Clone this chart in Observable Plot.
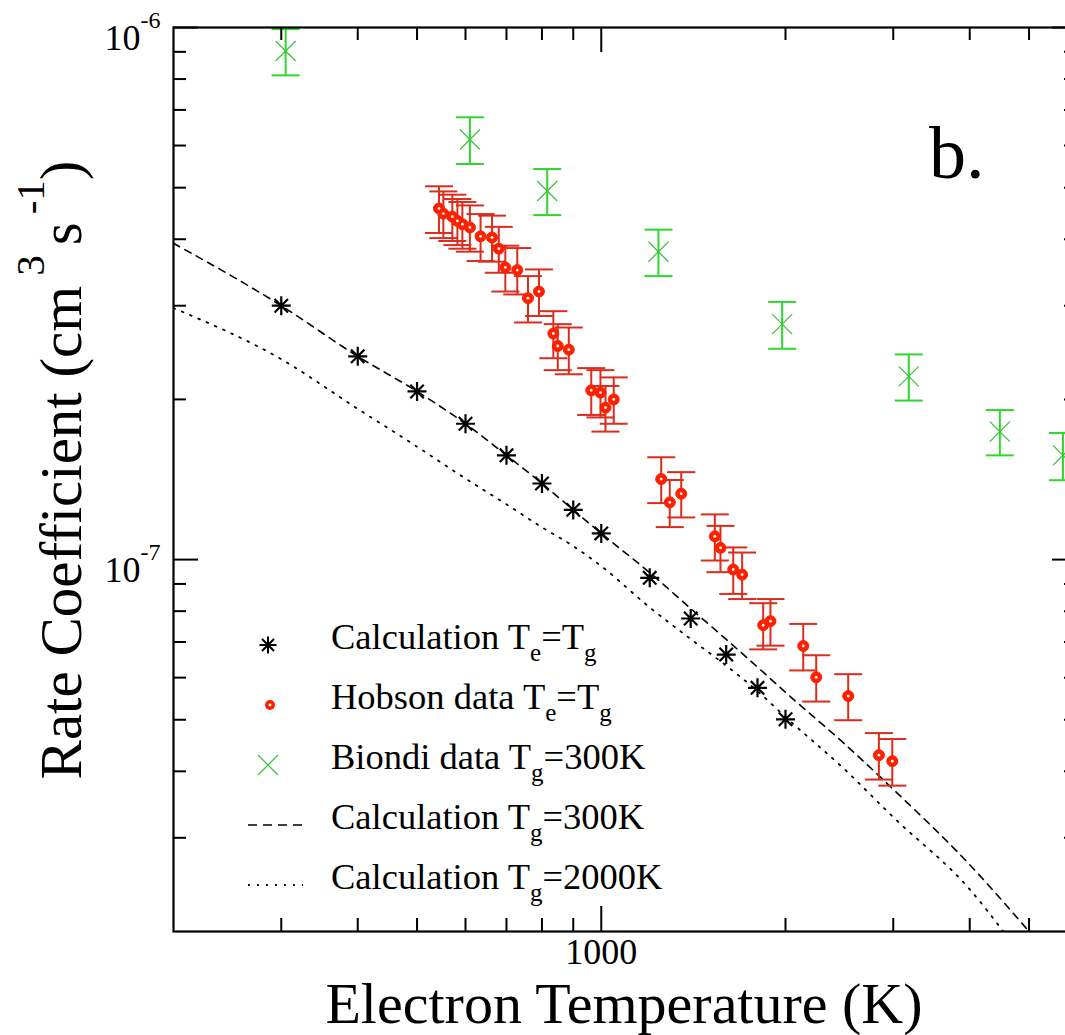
<!DOCTYPE html>
<html>
<head>
<meta charset="utf-8">
<script src="https://cdn.jsdelivr.net/npm/d3@7"></script>
<script src="https://cdn.jsdelivr.net/npm/@observablehq/plot@0.6"></script>
<style>
html,body{margin:0;padding:0;background:#fff;overflow:hidden}
</style>
</head>
<body>
<div id="chart"></div>
<script>
// ---- data ----
const calcT    = [300,400,500,600,700,800,900,1000,1200,1400,1600,1800,2000];
const calcRate = [3.00e-7,2.41e-7,2.07e-7,1.80e-7,1.57e-7,1.39e-7,1.24e-7,1.12e-7,9.24e-8,7.75e-8,6.63e-8,5.74e-8,5.01e-8];

const tg300T    = [200,300,400,500,600,700,800,900,1000,1200,1400,1600,1800,2000,2500,3000,4000,5000];
const tg300Rate = [3.93e-7,3.00e-7,2.41e-7,2.07e-7,1.80e-7,1.57e-7,1.39e-7,1.24e-7,1.12e-7,9.45e-8,8.09e-8,7.08e-8,6.28e-8,5.63e-8,4.50e-8,3.70e-8,2.67e-8,2.00e-8];

const tg2000T    = [200,300,400,500,600,700,800,900,1000,1200,1400,1600,1800,2000,2500,3000,4000,4540];
const tg2000Rate = [2.97e-7,2.38e-7,1.92e-7,1.63e-7,1.42e-7,1.27e-7,1.15e-7,1.06e-7,9.72e-8,8.13e-8,7.09e-8,6.32e-8,5.66e-8,5.06e-8,4.03e-8,3.28e-8,2.40e-8,2.00e-8];

const hobsonT    = [543,552,571,582,593,610,635,663,680,697,729,759,791,835,849,885,963,997,1016,1048,1253,1294,1351,1533,1566,1643,1699,1839,1890,2138,2245,2532,2842,2989];
const hobsonRate = [4.57e-7,4.47e-7,4.41e-7,4.33e-7,4.27e-7,4.21e-7,4.05e-7,4.03e-7,3.84e-7,3.54e-7,3.50e-7,3.10e-7,3.19e-7,2.66e-7,2.52e-7,2.48e-7,2.08e-7,2.06e-7,1.93e-7,2.00e-7,1.417e-7,1.281e-7,1.330e-7,1.106e-7,1.052e-7,9.58e-8,9.37e-8,7.53e-8,7.66e-8,6.88e-8,6.01e-8,5.54e-8,4.29e-8,4.18e-8];
const hobsonErr  = [0.46e-7,0.45e-7,0.44e-7,0.43e-7,0.43e-7,0.42e-7,0.41e-7,0.40e-7,0.38e-7,0.35e-7,0.35e-7,0.31e-7,0.32e-7,0.27e-7,0.25e-7,0.25e-7,0.21e-7,0.21e-7,0.19e-7,0.20e-7,0.14e-7,0.13e-7,0.13e-7,0.11e-7,0.105e-7,0.96e-8,0.94e-8,0.75e-8,0.77e-8,0.69e-8,0.60e-8,0.55e-8,0.43e-8,0.42e-8];

const biondiT    = [305,610,816,1240,1975,3180,4480,5680];
const biondiRate = [9.03e-7,6.16e-7,4.93e-7,3.79e-7,2.77e-7,2.21e-7,1.74e-7,1.57e-7];
const biondiErr  = [0.90e-7,0.62e-7,0.49e-7,0.38e-7,0.28e-7,0.22e-7,0.17e-7,0.16e-7];

const xMinorTicks = [300,400,500,600,700,800,900,2000,3000,4000,5000];
const xMajorTicks = [1000];
const yMinorTicks = [3e-8,4e-8,5e-8,6e-8,7e-8,8e-8,9e-8,2e-7,3e-7,4e-7,5e-7,6e-7,7e-7,8e-7,9e-7];
const yMajorTicks = [1e-7,1e-6];

const xTitle = "Electron Temperature (K)";
const panelLabel = "b.";
const legendLabels = [
  [["Calculation T",0],["e",1],["=T",0],["g",1]],
  [["Hobson data T",0],["e",1],["=T",0],["g",1]],
  [["Biondi data T",0],["g",1],["=300K",0]],
  [["Calculation T",0],["g",1],["=300K",0]],
  [["Calculation T",0],["g",1],["=2000K",0]]
];

// ---- tables ----
const calc = calcT.map((T,i)=>({T, v: calcRate[i]}));
const tg300 = tg300T.map((T,i)=>({T, v: tg300Rate[i]}));
const tg2000 = tg2000T.map((T,i)=>({T, v: tg2000Rate[i]}));
const hobson = hobsonT.map((T,i)=>({T, v: hobsonRate[i], lo: hobsonRate[i]-hobsonErr[i], hi: hobsonRate[i]+hobsonErr[i]}));
const biondi = biondiT.map((T,i)=>({T, v: biondiRate[i], lo: biondiRate[i]-biondiErr[i], hi: biondiRate[i]+biondiErr[i]}));

// ---- custom symbols ----
const star8 = {draw(ctx, size){ const r=Math.sqrt(size/Math.PI), d=r*Math.SQRT1_2;
  ctx.moveTo(-r,0); ctx.lineTo(r,0); ctx.moveTo(0,-r); ctx.lineTo(0,r);
  ctx.moveTo(-d,-d); ctx.lineTo(d,d); ctx.moveTo(-d,d); ctx.lineTo(d,-d); }};
const cross = {draw(ctx, size){ const r=Math.sqrt(size/Math.PI);
  ctx.moveTo(-r,-r); ctx.lineTo(r,r); ctx.moveTo(-r,r); ctx.lineTo(r,-r); }};
const hcap = {draw(ctx, size){ const r=Math.sqrt(size/Math.PI);
  ctx.moveTo(-r,0); ctx.lineTo(r,0); }};

const RED_BAR = "#dc2c1c", RED_PT = "#ff2000", GREEN = "#2fd62f", GREEN_X = "#3cc43c";
const FONT = "Liberation Serif";
const FH = 904; // frame height/width in px (for tick insets)

const chart = Plot.plot({
  width: 1065, height: 1035,
  marginLeft: 173, marginTop: 27, marginRight: -12, marginBottom: 104,
  x: {type: "log", domain: [200, 6000], axis: null},
  y: {type: "log", domain: [2e-8, 1e-6], axis: null},
  style: {fontFamily: FONT, background: "white", overflow: "hidden"},
  marks: [
    Plot.line(tg300, {x: "T", y: "v", curve: "monotone-x", stroke: "black", strokeWidth: 1.6, strokeDasharray: "7,6", clip: true}),
    Plot.line(tg2000, {x: "T", y: "v", curve: "monotone-x", stroke: "black", strokeWidth: 1.8, strokeDasharray: "1.8,7.2", clip: true}),
    // Hobson
    Plot.ruleX(hobson, {x: "T", y1: "lo", y2: "hi", stroke: RED_BAR, strokeWidth: 2}),
    Plot.dot(hobson, {x: "T", y: "lo", symbol: hcap, r: 14, stroke: RED_BAR, strokeWidth: 2, fill: "none"}),
    Plot.dot(hobson, {x: "T", y: "hi", symbol: hcap, r: 14, stroke: RED_BAR, strokeWidth: 2, fill: "none"}),
    Plot.dot(hobson, {x: "T", y: "v", r: 5.5, fill: RED_PT, stroke: RED_PT, strokeWidth: 1}),
    Plot.dot(hobson, {x: "T", y: "v", r: 1.4, fill: "white", stroke: "none"}),
    // Biondi
    Plot.ruleX(biondi, {x: "T", y1: "lo", y2: "hi", stroke: GREEN, strokeWidth: 2}),
    Plot.dot(biondi, {x: "T", y: "lo", symbol: hcap, r: 14, stroke: GREEN, strokeWidth: 2, fill: "none"}),
    Plot.dot(biondi, {x: "T", y: "hi", symbol: hcap, r: 14, stroke: GREEN, strokeWidth: 2, fill: "none"}),
    Plot.dot(biondi, {x: "T", y: "v", symbol: cross, r: 10, stroke: GREEN_X, strokeWidth: 1.3, fill: "none"}),
    // Calculation
    Plot.dot(calc, {x: "T", y: "v", symbol: star8, r: 9.5, stroke: "black", strokeWidth: 2.2, fill: "none"}),
    // ticks
    Plot.tickX(xMinorTicks, {x: d=>d, insetTop: FH-13, stroke: "black", strokeWidth: 2}),
    Plot.tickX(xMinorTicks, {x: d=>d, insetBottom: FH-13, stroke: "black", strokeWidth: 2}),
    Plot.tickX(xMajorTicks, {x: d=>d, insetTop: FH-25, stroke: "black", strokeWidth: 2}),
    Plot.tickX(xMajorTicks, {x: d=>d, insetBottom: FH-25, stroke: "black", strokeWidth: 2}),
    Plot.tickY(yMinorTicks, {y: d=>d, insetRight: FH-13, stroke: "black", strokeWidth: 2}),
    Plot.tickY(yMinorTicks, {y: d=>d, insetLeft: FH-13, stroke: "black", strokeWidth: 2}),
    Plot.tickY(yMajorTicks, {y: d=>d, insetRight: FH-25, stroke: "black", strokeWidth: 2}),
    Plot.tickY(yMajorTicks, {y: d=>d, insetLeft: FH-25, stroke: "black", strokeWidth: 2}),
    Plot.frame({stroke: "black", strokeWidth: 2.2}),
    // tick labels
    Plot.text(xMajorTicks, {x: d=>d, text: d=>String(d), frameAnchor: "bottom", dy: 32, fontSize: 36, fontFamily: FONT, fill: "black"}),
    Plot.text(yMajorTicks, {y: d=>d, text: d=>"10", frameAnchor: "left", textAnchor: "end", dx: -33, dy: 11, fontSize: 36, fontFamily: FONT, fill: "black"}),
    Plot.text(yMajorTicks, {y: d=>d, text: d=>String(Math.round(Math.log10(d))), frameAnchor: "left", textAnchor: "start", dx: -33, dy: -7, fontSize: 24, fontFamily: FONT, fill: "black"})
  ]
});

document.getElementById("chart").appendChild(chart);
const svg = d3.select(chart);

// ---- titles ----
svg.append("text").attr("x", 624).attr("y", 1023).attr("text-anchor", "middle")
  .attr("font-size", 58).attr("fill", "black").text(xTitle);
svg.append("text").attr("x", 929).attr("y", 178).attr("text-anchor", "start")
  .attr("font-size", 74).attr("fill", "black").text(panelLabel);

const yt = svg.append("text")
  .attr("transform", "translate(81,470) rotate(-90)")
  .attr("text-anchor", "middle")
  .attr("font-size", 59).attr("fill", "black");
yt.append("tspan").text("Rate Coefficient (cm");
yt.append("tspan").attr("dx", 10).attr("dy", -37).attr("font-size", 41).text("3");
yt.append("tspan").attr("dx", 10).attr("dy", 37).text("s");
yt.append("tspan").attr("dx", 8).attr("dy", -37).attr("font-size", 41).text("-1");
yt.append("tspan").attr("dy", 37).text(")");

// ---- legend ----
const lg = svg.append("g").attr("fill", "black");
const sym = (type, r) => { const p = d3.path(); type.draw(p, r * r * Math.PI); return p.toString(); };
legendLabels.forEach((parts, k) => {
  const cy = 645 + 60 * k;
  const t = lg.append("text").attr("x", 331).attr("y", cy + 4).attr("font-size", 36.5).attr("text-anchor", "start");
  let sub = false;
  parts.forEach(([s, isSub]) => {
    const ts = t.append("tspan").text(s);
    if (isSub) { ts.attr("font-size", 25); if (!sub) { ts.attr("dy", 12); sub = true; } }
    else if (sub) { ts.attr("dy", -12); sub = false; }
  });
  if (k === 0) lg.append("path").attr("d", sym(star8, 8.5)).attr("transform", `translate(268,${cy})`).attr("stroke", "black").attr("stroke-width", 2).attr("fill", "none");
  if (k === 1) {
    lg.append("circle").attr("cx", 270).attr("cy", cy).attr("r", 5).attr("fill", RED_PT);
    lg.append("circle").attr("cx", 270).attr("cy", cy).attr("r", 1.4).attr("fill", "white");
  }
  if (k === 2) lg.append("path").attr("d", sym(cross, 10)).attr("transform", `translate(268,${cy})`).attr("stroke", GREEN_X).attr("stroke-width", 1.3).attr("fill", "none");
  if (k === 3) lg.append("line").attr("x1", 248).attr("x2", 303).attr("y1", cy).attr("y2", cy).attr("stroke", "black").attr("stroke-width", 1.6).attr("stroke-dasharray", "9,6");
  if (k === 4) lg.append("line").attr("x1", 248).attr("x2", 303).attr("y1", cy).attr("y2", cy).attr("stroke", "black").attr("stroke-width", 1.8).attr("stroke-dasharray", "1.8,7.2");
});

// force the serif face on every text
svg.selectAll("text").style("font-family", "'Liberation Serif', serif");
</script>
</body>
</html>
